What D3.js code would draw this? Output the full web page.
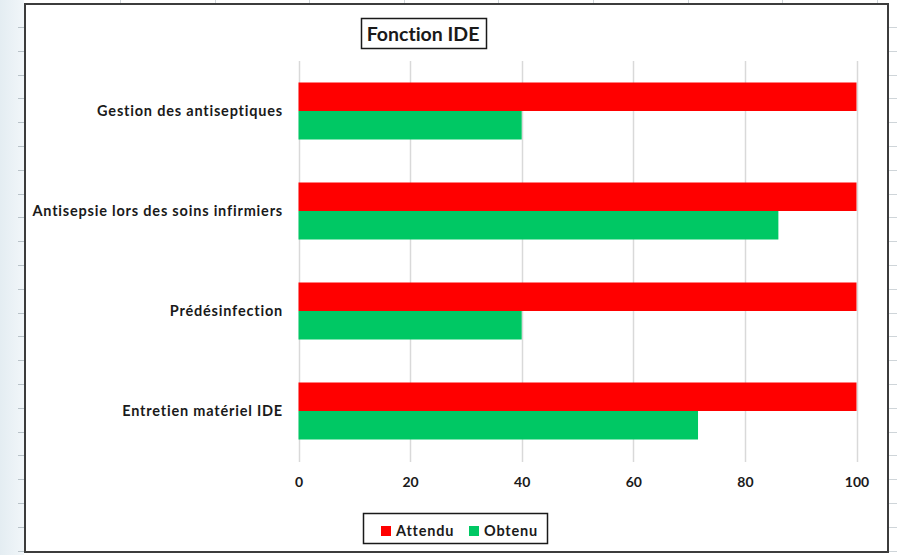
<!DOCTYPE html>
<html>
<head>
<meta charset="utf-8">
<script src="https://cdn.jsdelivr.net/npm/d3@7"></script>
<style>
  html, body { margin: 0; padding: 0; background: #ffffff; }
  svg { display: block; }
  text { font-family: Lato, "Open Sans", sans-serif; font-weight: bold; fill: #1a1a1a; font-variant-ligatures: none; }
</style>
</head>
<body>
<svg id="chart" width="897" height="555"></svg>
<script>
// Categories, top to bottom
const categories = [
  "Gestion des antiseptiques",
  "Antisepsie lors des soins infirmiers",
  "Prédésinfection",
  "Entretien matériel IDE"
];
// Series values (%)
const attendu = [100, 100, 100, 100];
const obtenu = [40, 86, 40, 71.6];
const seriesNames = ["Attendu", "Obtenu"];
const seriesColors = ["#ff0000", "#00c864"];
const xTicks = [0, 20, 40, 60, 80, 100];
const title = "Fonction IDE";

const W = 897, H = 555;
const svg = d3.select("#chart");

// Spreadsheet surroundings behind the chart object
const grad = svg.append("defs").append("linearGradient")
  .attr("id", "side").attr("x1", 0).attr("x2", 1);
grad.append("stop").attr("offset", 0).attr("stop-color", "#e4edf2");
grad.append("stop").attr("offset", 1).attr("stop-color", "#f1f6f9");
svg.append("rect").attr("x", 0).attr("y", 0).attr("width", 24).attr("height", H).attr("fill", "url(#side)");
for (let y = 27; y < H; y += 23.8) {
  svg.append("line").attr("x1", 18).attr("x2", 24).attr("y1", Math.round(y) + 0.5).attr("y2", Math.round(y) + 0.5)
    .attr("stroke", "#b9c3c9").attr("stroke-width", 1);
  svg.append("line").attr("x1", 888).attr("x2", W).attr("y1", Math.round(y) + 0.5).attr("y2", Math.round(y) + 0.5)
    .attr("stroke", "#cfd5d9").attr("stroke-width", 1);
}
for (let x = 120; x < W; x += 94.6) {
  svg.append("line").attr("x1", Math.round(x) + 0.5).attr("x2", Math.round(x) + 0.5).attr("y1", 0).attr("y2", 4)
    .attr("stroke", "#cfd5d9").attr("stroke-width", 1);
}

// Chart object frame
svg.append("rect").attr("x", 25).attr("y", 4).attr("width", 863).attr("height", 548)
  .attr("fill", "#ffffff").attr("stroke", "#3c3c3c").attr("stroke-width", 2);

// Scales
const x = d3.scaleLinear().domain([0, 100]).range([298.5, 856.5]);
const y = d3.scaleBand().domain(categories).range([61, 461]).paddingInner(0.43).paddingOuter(0.215);
const ySub = d3.scaleBand().domain(seriesNames).range([0, y.bandwidth()]);

// Vertical gridlines
svg.append("g").selectAll("line").data(xTicks).join("line")
  .attr("x1", d => Math.round(x(d)) + 0.5).attr("x2", d => Math.round(x(d)) + 0.5)
  .attr("y1", 61).attr("y2", 462)
  .attr("stroke", "#d9d9d9").attr("stroke-width", 1.5);

// Bars
const rows = categories.map((c, i) => ({ cat: c, vals: [attendu[i], obtenu[i]] }));
const grp = svg.append("g").selectAll("g").data(rows).join("g")
  .attr("transform", d => `translate(0,${y(d.cat)})`);
grp.selectAll("rect").data(d => d.vals.map((v, j) => ({ v, s: seriesNames[j], c: seriesColors[j] })))
  .join("rect")
  .attr("x", x(0))
  .attr("y", d => ySub(d.s))
  .attr("width", d => x(d.v) - x(0))
  .attr("height", ySub.bandwidth())
  .attr("fill", d => d.c);

// Category labels
const yAxis = d3.axisLeft(y).tickSize(0).tickPadding(0);
const yg = svg.append("g").attr("transform", "translate(283,0)").call(yAxis);
yg.select(".domain").remove();
yg.selectAll("text").attr("font-size", 14.5).attr("letter-spacing", 0.8)
  .attr("font-family", "Lato, sans-serif").attr("font-weight", "bold").attr("fill", "#1a1a1a");

// Value axis labels
const xAxis = d3.axisBottom(x).tickValues(xTicks).tickSize(0).tickPadding(0);
const xg = svg.append("g").attr("transform", "translate(0,477)").call(xAxis);
xg.select(".domain").remove();
xg.selectAll("text").attr("font-size", 14).attr("font-family", "Lato, sans-serif").attr("font-weight", "bold").attr("fill", "#1a1a1a");

// Title in a box
svg.append("rect").attr("x", 361.5).attr("y", 18.5).attr("width", 125).attr("height", 30)
  .attr("fill", "#ffffff").attr("stroke", "#1a1a1a").attr("stroke-width", 1.5);
svg.append("text").attr("x", 423).attr("y", 40.5).attr("text-anchor", "middle")
  .attr("font-size", 19.5).text(title);

// Legend
svg.append("rect").attr("x", 363.5).attr("y", 513.5).attr("width", 184).attr("height", 30)
  .attr("fill", "#ffffff").attr("stroke", "#1a1a1a").attr("stroke-width", 1.5);
const legX = [381, 469];
const leg = svg.append("g").selectAll("g").data(seriesNames).join("g")
  .attr("transform", (d, i) => `translate(${legX[i]},526)`);
leg.append("rect").attr("width", 10).attr("height", 10).attr("fill", (d, i) => seriesColors[i]);
leg.append("text").attr("x", 15).attr("y", 10).attr("font-size", 14.5).attr("letter-spacing", 0.8).text(d => d);
</script>
</body>
</html>
